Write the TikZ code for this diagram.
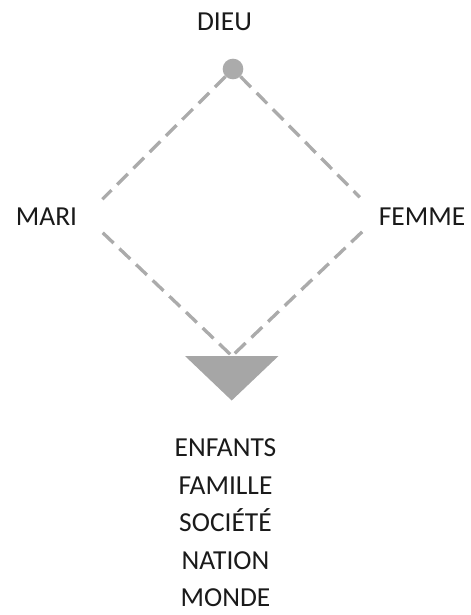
\documentclass[tikz,border=0pt]{standalone}
\usepackage{fontspec}
\setmainfont{Carlito}
\definecolor{linegray}{HTML}{ABABAB}
\definecolor{trigray}{HTML}{A6A6A6}
\definecolor{txt}{HTML}{1A1A1A}
\tikzset{
  lbl/.style={font=\fontsize{20.6pt}{24pt}\selectfont, text=txt, anchor=base, inner ysep=0pt},
  link/.style={draw=linegray, line width=2.5pt, dash pattern=on 11.25pt off 6pt},
  dotnode/.style={circle, fill=linegray, minimum size=15.5pt, inner sep=0pt}
}
\begin{document}
\begin{tikzpicture}[x=0.75pt,y=-0.75pt]
\useasboundingbox (0,0) rectangle (471,615);
\node[lbl] (dieu) at (224.5,30) {DIEU};
\node[dotnode] (dot) at (233,69) {};
\node[lbl, inner xsep=6pt] (mari) at (46.5,225) {MARI};
\node[lbl, inner xsep=0pt] (femme) at (422,225) {FEMME};
\coordinate (tritop) at (232,356);
\fill[trigray] (185,356) -- (278.5,356) -- (231.7,400.5) -- cycle;
\draw[link, shorten >=18pt] (dot) -- (mari.east);
\draw[link, shorten >=20pt] (dot) -- (femme.west);
\draw[link, shorten <=18pt] (mari.east) -- (tritop);
\draw[link, shorten <=17pt] (femme.west) -- (tritop);
\node[lbl] (enfants) at (225.5,456.5) {ENFANTS};
\node[lbl] (famille) at (225.5,494) {FAMILLE};
\node[lbl] (societe) at (225.5,531.5) {SOCIÉTÉ};
\node[lbl] (nation) at (225.5,569) {NATION};
\node[lbl] (monde) at (225.5,606.5) {MONDE};
\end{tikzpicture}
\end{document}
